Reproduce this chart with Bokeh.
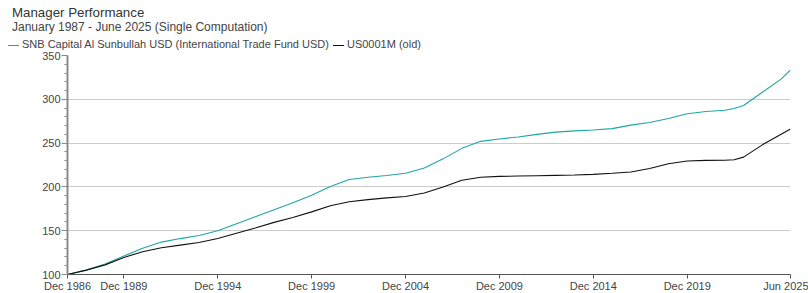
from bokeh.plotting import figure
from bokeh.layouts import column
from bokeh.models import Range1d, FixedTicker, Div
from bokeh.embed import file_html
from bokeh.resources import INLINE

# ---- data ----
dates = ["1986-12", "1987-12", "1988-12", "1989-12", "1990-12", "1991-12", "1992-12",
         "1993-12", "1994-12", "1995-12", "1996-12", "1997-12", "1998-12", "1999-12",
         "2000-12", "2001-12", "2002-12", "2003-12", "2004-12", "2005-12", "2006-12",
         "2007-12", "2008-12", "2009-12", "2010-12", "2011-12", "2012-12", "2013-12",
         "2014-12", "2015-12", "2016-12", "2017-12", "2018-12", "2019-12", "2020-12",
         "2021-12", "2022-06", "2022-12", "2023-12", "2024-12", "2025-06"]

fund = [100, 105, 112, 121, 130, 137, 141,
        144.5, 150, 158, 166, 174, 182, 190.5,
        200.5, 208.5, 211, 213, 215.5, 221.5, 232,
        244, 252, 254.7, 257, 260, 262.5, 264,
        265, 266.5, 270.5, 273.5, 278, 283.5, 286,
        287.5, 289.5, 293, 308, 323, 333.5]

bench = [100, 105, 111, 119.5, 126, 130.5, 133.5,
         136.5, 141, 147, 153, 159.5, 165, 171.5,
         178.5, 183, 185.5, 187.5, 189, 193, 200,
         207.5, 211, 212, 212.4, 212.8, 213.2, 213.6,
         214.3, 215.5, 217, 221, 226.5, 229.5, 230.3,
         230.5, 231, 234, 248, 260, 266]

tick_labels = ["Dec 1986", "Dec 1989", "Dec 1994", "Dec 1999", "Dec 2004",
               "Dec 2009", "Dec 2014", "Dec 2019", "Jun 2025"]

series_names = ["SNB Capital Al Sunbullah USD (International Trade Fund USD)",
                "US0001M (old)"]
series_colors = ["#1fa5a6", "#111111"]

title_text = "Manager Performance"
subtitle_text = "January 1987 - June 2025 (Single Computation)"

MONTHS = {"Jan": 1, "Feb": 2, "Mar": 3, "Apr": 4, "May": 5, "Jun": 6,
          "Jul": 7, "Aug": 8, "Sep": 9, "Oct": 10, "Nov": 11, "Dec": 12}


def idx_from_iso(s):
    y, m = s.split("-")
    return (int(y) - 1986) * 12 + (int(m) - 12)


def idx_from_label(s):
    mo, y = s.split()
    return (int(y) - 1986) * 12 + (MONTHS[mo] - 12)


x = [idx_from_iso(d) for d in dates]
ticks = [idx_from_label(t) for t in tick_labels]

FONT = "Liberation Sans"
W = 808
HEAD_H = 51
FRAME_W = 723
FRAME_H = 219
LEFT = 67
RIGHT = W - LEFT - FRAME_W

# ---------------- header: titles + legend (HTML text) ----------------
legend_html = "".join(
    ('<span style="display:inline-block;width:11px;height:0;'
     'border-top:1px solid {c};vertical-align:middle;margin:0 3px 0 {ml}px"></span>'
     '<span>{n}</span>').format(c=c, n=n, ml=(0 if i == 0 else 4))
    for i, (n, c) in enumerate(zip(series_names, series_colors)))

header_html = (
    '<div style="position:relative;width:{w}px;height:{h}px;overflow:hidden;'
    'font-family:\'{f}\',Arial,sans-serif;color:#444444">'
    '<div style="position:absolute;left:12px;top:5px;font-size:13.3px;'
    'line-height:16px;color:#333333;white-space:nowrap">{t}</div>'
    '<div style="position:absolute;left:12px;top:20px;font-size:12px;'
    'line-height:15px;white-space:nowrap">{s}</div>'
    '<div style="position:absolute;left:8px;top:38px;font-size:11px;'
    'line-height:13px;white-space:nowrap">{lg}</div>'
    '</div>'
).format(w=W, h=HEAD_H, f=FONT, t=title_text, s=subtitle_text, lg=legend_html)

head = Div(text=header_html, width=W, height=HEAD_H, margin=(0, 0, 0, 0))

# ---------------- main chart ----------------
p = figure(frame_width=FRAME_W, frame_height=FRAME_H, output_backend="svg",
           toolbar_location=None,
           x_range=Range1d(0, ticks[-1]), y_range=Range1d(100, 350),
           min_border_left=LEFT, min_border_right=RIGHT,
           min_border_top=55 - HEAD_H, min_border_bottom=19,
           margin=(0, 0, 0, 0))
p.outline_line_color = None

p.line(x, fund, line_color=series_colors[0], line_width=1.1)
p.line(x, bench, line_color=series_colors[1], line_width=1.1)

p.xaxis.ticker = FixedTicker(ticks=ticks)
p.xaxis.major_label_overrides = {t: l for t, l in zip(ticks, tick_labels)}
p.xaxis.axis_line_color = "#555555"
p.xaxis.major_tick_line_color = "#555555"
p.xaxis.major_tick_out = 4
p.xaxis.major_tick_in = 0
p.xaxis.minor_tick_line_color = None
p.xaxis.major_label_standoff = 1

p.yaxis.ticker = FixedTicker(ticks=[100, 150, 200, 250, 300, 350],
                             minor_ticks=list(range(100, 351, 10)))
p.yaxis.axis_line_color = "#8a8a8a"
p.yaxis.axis_line_width = 2
p.yaxis.major_tick_line_color = "#8a8a8a"
p.yaxis.minor_tick_line_color = "#8a8a8a"
p.yaxis.major_tick_out = 6
p.yaxis.major_tick_in = 0
p.yaxis.minor_tick_out = 3
p.yaxis.minor_tick_in = 0
p.yaxis.major_label_standoff = 1

for ax in (p.xaxis, p.yaxis):
    ax.major_label_text_font = FONT
    ax.major_label_text_font_size = "11px"
    ax.major_label_text_color = "#444444"

p.xgrid.grid_line_color = None
p.ygrid.grid_line_color = "#cccccc"
p.ygrid.grid_line_width = 1

layout = column(head, p, spacing=0)
open("out.html", "w").write(file_html(layout, INLINE))
